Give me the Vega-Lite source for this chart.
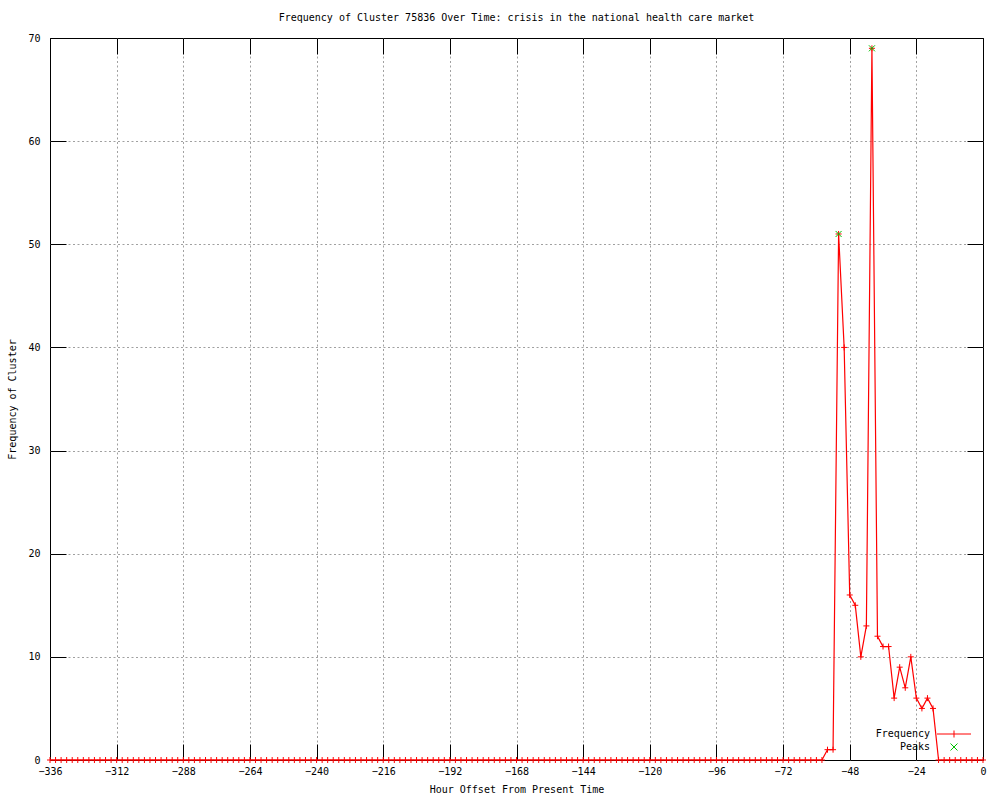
{
  "$schema": "https://vega.github.io/schema/vega-lite/v6.json",
  "width": 933,
  "height": 722,
  "autosize": {"type": "none"},
  "padding": {"left": 50, "top": 38, "right": 17, "bottom": 40},
  "background": "white",
  "config": {
    "font": "DejaVu Sans Mono",
    "view": {"stroke": "black", "strokeWidth": 1},
    "axis": {
      "labelFont": "DejaVu Sans Mono",
      "labelFontSize": 10,
      "labelColor": "black",
      "titleFont": "DejaVu Sans Mono",
      "titleFontSize": 10,
      "titleFontWeight": "normal",
      "titleColor": "black",
      "domain": false,
      "tickColor": "black",
      "tickSize": -16,
      "tickWidth": 1,
      "gridDash": [2, 2.5],
      "gridWidth": 1,
      "gridOpacity": 1,
      "labelFlush": false,
      "labelOverlap": false
    }
  },
  "title": {
    "text": "Frequency of Cluster 75836 Over Time: crisis in the national health care market",
    "font": "DejaVu Sans Mono",
    "fontSize": 10,
    "fontWeight": "normal",
    "color": "black",
    "anchor": "middle",
    "offset": 10
  },
  "datasets": {
    "freq": [
      {"h": -336, "f": 0}, {"h": -334, "f": 0}, {"h": -332, "f": 0}, {"h": -330, "f": 0},
      {"h": -328, "f": 0}, {"h": -326, "f": 0}, {"h": -324, "f": 0}, {"h": -322, "f": 0},
      {"h": -320, "f": 0}, {"h": -318, "f": 0}, {"h": -316, "f": 0}, {"h": -314, "f": 0},
      {"h": -312, "f": 0}, {"h": -310, "f": 0}, {"h": -308, "f": 0}, {"h": -306, "f": 0},
      {"h": -304, "f": 0}, {"h": -302, "f": 0}, {"h": -300, "f": 0}, {"h": -298, "f": 0},
      {"h": -296, "f": 0}, {"h": -294, "f": 0}, {"h": -292, "f": 0}, {"h": -290, "f": 0},
      {"h": -288, "f": 0}, {"h": -286, "f": 0}, {"h": -284, "f": 0}, {"h": -282, "f": 0},
      {"h": -280, "f": 0}, {"h": -278, "f": 0}, {"h": -276, "f": 0}, {"h": -274, "f": 0},
      {"h": -272, "f": 0}, {"h": -270, "f": 0}, {"h": -268, "f": 0}, {"h": -266, "f": 0},
      {"h": -264, "f": 0}, {"h": -262, "f": 0}, {"h": -260, "f": 0}, {"h": -258, "f": 0},
      {"h": -256, "f": 0}, {"h": -254, "f": 0}, {"h": -252, "f": 0}, {"h": -250, "f": 0},
      {"h": -248, "f": 0}, {"h": -246, "f": 0}, {"h": -244, "f": 0}, {"h": -242, "f": 0},
      {"h": -240, "f": 0}, {"h": -238, "f": 0}, {"h": -236, "f": 0}, {"h": -234, "f": 0},
      {"h": -232, "f": 0}, {"h": -230, "f": 0}, {"h": -228, "f": 0}, {"h": -226, "f": 0},
      {"h": -224, "f": 0}, {"h": -222, "f": 0}, {"h": -220, "f": 0}, {"h": -218, "f": 0},
      {"h": -216, "f": 0}, {"h": -214, "f": 0}, {"h": -212, "f": 0}, {"h": -210, "f": 0},
      {"h": -208, "f": 0}, {"h": -206, "f": 0}, {"h": -204, "f": 0}, {"h": -202, "f": 0},
      {"h": -200, "f": 0}, {"h": -198, "f": 0}, {"h": -196, "f": 0}, {"h": -194, "f": 0},
      {"h": -192, "f": 0}, {"h": -190, "f": 0}, {"h": -188, "f": 0}, {"h": -186, "f": 0},
      {"h": -184, "f": 0}, {"h": -182, "f": 0}, {"h": -180, "f": 0}, {"h": -178, "f": 0},
      {"h": -176, "f": 0}, {"h": -174, "f": 0}, {"h": -172, "f": 0}, {"h": -170, "f": 0},
      {"h": -168, "f": 0}, {"h": -166, "f": 0}, {"h": -164, "f": 0}, {"h": -162, "f": 0},
      {"h": -160, "f": 0}, {"h": -158, "f": 0}, {"h": -156, "f": 0}, {"h": -154, "f": 0},
      {"h": -152, "f": 0}, {"h": -150, "f": 0}, {"h": -148, "f": 0}, {"h": -146, "f": 0},
      {"h": -144, "f": 0}, {"h": -142, "f": 0}, {"h": -140, "f": 0}, {"h": -138, "f": 0},
      {"h": -136, "f": 0}, {"h": -134, "f": 0}, {"h": -132, "f": 0}, {"h": -130, "f": 0},
      {"h": -128, "f": 0}, {"h": -126, "f": 0}, {"h": -124, "f": 0}, {"h": -122, "f": 0},
      {"h": -120, "f": 0}, {"h": -118, "f": 0}, {"h": -116, "f": 0}, {"h": -114, "f": 0},
      {"h": -112, "f": 0}, {"h": -110, "f": 0}, {"h": -108, "f": 0}, {"h": -106, "f": 0},
      {"h": -104, "f": 0}, {"h": -102, "f": 0}, {"h": -100, "f": 0}, {"h": -98, "f": 0},
      {"h": -96, "f": 0}, {"h": -94, "f": 0}, {"h": -92, "f": 0}, {"h": -90, "f": 0},
      {"h": -88, "f": 0}, {"h": -86, "f": 0}, {"h": -84, "f": 0}, {"h": -82, "f": 0},
      {"h": -80, "f": 0}, {"h": -78, "f": 0}, {"h": -76, "f": 0}, {"h": -74, "f": 0},
      {"h": -72, "f": 0}, {"h": -70, "f": 0}, {"h": -68, "f": 0}, {"h": -66, "f": 0},
      {"h": -64, "f": 0}, {"h": -62, "f": 0}, {"h": -60, "f": 0}, {"h": -58, "f": 0},
      {"h": -56, "f": 1}, {"h": -54, "f": 1}, {"h": -52, "f": 51}, {"h": -50, "f": 40},
      {"h": -48, "f": 16}, {"h": -46, "f": 15}, {"h": -44, "f": 10}, {"h": -42, "f": 13},
      {"h": -40, "f": 69}, {"h": -38, "f": 12}, {"h": -36, "f": 11}, {"h": -34, "f": 11},
      {"h": -32, "f": 6}, {"h": -30, "f": 9}, {"h": -28, "f": 7}, {"h": -26, "f": 10},
      {"h": -24, "f": 6}, {"h": -22, "f": 5}, {"h": -20, "f": 6}, {"h": -18, "f": 5},
      {"h": -16, "f": 0}, {"h": -14, "f": 0}, {"h": -12, "f": 0}, {"h": -10, "f": 0},
      {"h": -8, "f": 0}, {"h": -6, "f": 0}, {"h": -4, "f": 0}, {"h": -2, "f": 0},
      {"h": 0, "f": 0}
    ],
    "peaks": [
      {"h": -52, "f": 51},
      {"h": -40, "f": 69}
    ]
  },
  "layer": [
    {
      "layer": [
        {
          "data": {"name": "freq"},
          "mark": {"type": "line", "color": "#ff0000", "strokeWidth": 1.2, "interpolate": "linear"},
          "encoding": {
            "x": {
              "field": "h", "type": "quantitative",
              "scale": {"domain": [-336, 0], "nice": false, "zero": false},
              "axis": {
                "orient": "bottom",
                "values": [-336, -312, -288, -264, -240, -216, -192, -168, -144, -120, -96, -72, -48, -24, 0],
                "grid": true,
                "gridColor": {"condition": {"test": "datum.value === -336 || datum.value === 0", "value": "transparent"}, "value": "#a0a0a0"},
                "labelPadding": 22,
                "title": "Hour Offset From Present Time",
                "titlePadding": 8
              }
            },
            "y": {
              "field": "f", "type": "quantitative",
              "scale": {"domain": [0, 70], "nice": false, "zero": false},
              "axis": {
                "orient": "left",
                "values": [0, 10, 20, 30, 40, 50, 60, 70],
                "grid": true,
                "gridColor": {"condition": {"test": "datum.value === 0 || datum.value === 70", "value": "transparent"}, "value": "#a0a0a0"},
                "labelPadding": 26,
                "title": "Frequency of Cluster",
                "titlePadding": 10
              }
            }
          }
        },
        {
          "data": {"name": "freq"},
          "mark": {"type": "point", "shape": "M-1,0H1M0,-1V1", "filled": false, "size": 36, "strokeWidth": 1, "opacity": 1},
          "encoding": {
            "x": {"field": "h", "type": "quantitative"},
            "y": {"field": "f", "type": "quantitative"},
            "color": {
              "datum": "Frequency",
              "type": "nominal",
              "scale": {"domain": ["Frequency", "Peaks"], "range": ["#ff0000", "#00c000"]},
              "legend": {
                "title": null,
                "orient": "none",
                "legendX": 899,
                "legendY": 691,
                "padding": 0,
                "rowPadding": 1,
                "symbolSize": 49,
                "symbolStrokeWidth": 1,
                "labelFont": "DejaVu Sans Mono",
                "labelFontSize": 10,
                "labelColor": "black",
                "labelAlign": "right",
                "labelOffset": -29,
                "labelLimit": 200,
                "encoding": {
                  "symbols": {
                    "shape": {"value": {"expr": "datum.value === 'Frequency' ? 'M-4.86,0H4.86M0,-1V1' : 'M-1,-1L1,1M1,-1L-1,1'"}},
                    "stroke": {"value": {"expr": "datum.value === 'Frequency' ? '#ff0000' : '#00c000'"}},
                    "strokeWidth": {"value": 1},
                    "opacity": {"value": 1}
                  }
                }
              }
            }
          }
        },
        {
          "data": {"name": "peaks"},
          "mark": {"type": "point", "shape": "M-1,-1L1,1M1,-1L-1,1", "filled": false, "size": 36, "strokeWidth": 1, "opacity": 1},
          "encoding": {
            "x": {"field": "h", "type": "quantitative"},
            "y": {"field": "f", "type": "quantitative"},
            "color": {"datum": "Peaks", "type": "nominal"}
          }
        }
      ]
    },
    {
      "data": {"name": "freq"},
      "mark": {"type": "line", "opacity": 0},
      "encoding": {
        "x": {
          "field": "h", "type": "quantitative",
          "scale": {"domain": [-336, 0], "nice": false, "zero": false},
          "axis": {
            "orient": "top",
            "values": [-336, -312, -288, -264, -240, -216, -192, -168, -144, -120, -96, -72, -48, -24, 0],
            "grid": false, "labels": false, "title": null
          }
        },
        "y": {
          "field": "f", "type": "quantitative",
          "scale": {"domain": [0, 70], "nice": false, "zero": false},
          "axis": {
            "orient": "right",
            "values": [0, 10, 20, 30, 40, 50, 60, 70],
            "grid": false, "labels": false, "title": null
          }
        }
      }
    }
  ],
  "resolve": {"scale": {"x": "independent", "y": "independent"}}
}
